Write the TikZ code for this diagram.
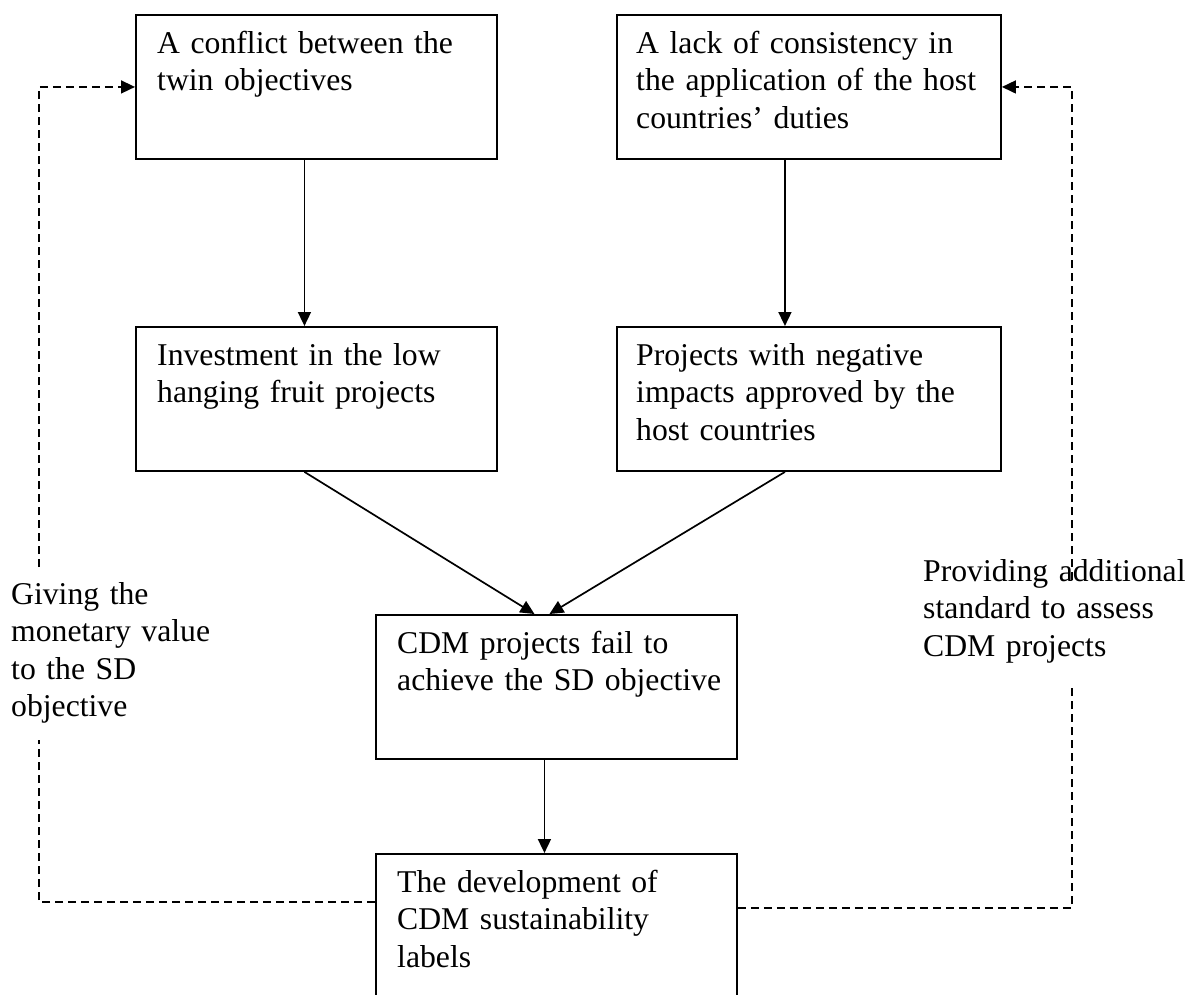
\documentclass[tikz,border=0pt]{standalone}
\usepackage{fontspec}
\setmainfont{Liberation Serif}
\usetikzlibrary{arrows.meta,calc}
\begin{document}
\begin{tikzpicture}[x=1pt,y=-1pt,
  box/.style={draw=black,line width=1.9pt,rectangle,inner sep=0pt,anchor=north west},
  txt/.style={anchor=base west,inner sep=0pt,text width=345pt,align=left,
    font=\fontsize{31.7pt}{37.5pt}\selectfont},
  flow/.style={line width=1.7pt,-{Triangle[length=14pt,width=13pt]}},
  link/.style={line width=1.6pt,dash pattern=on 8pt off 5pt},
  linkarrow/.style={link,-{Triangle[length=14pt,width=13pt]}}]
\useasboundingbox (0,0) rectangle (1186,994);
\clip (0,0) rectangle (1186,994);

% boxes
\node[box,minimum width=361pt,minimum height=144pt] (a) at (135,14) {};
\node[box,minimum width=384pt,minimum height=144pt] (b) at (616,14) {};
\node[box,minimum width=361pt,minimum height=144pt] (c) at (135,326) {};
\node[box,minimum width=384pt,minimum height=144pt] (d) at (616,326) {};
\node[box,minimum width=361pt,minimum height=144pt] (e) at (375,614) {};
\node[box,minimum width=361pt,minimum height=144pt] (f) at (375,853) {};

% box texts
\node[txt] (ta) at ($(a.north west)+(22,39)$) {A conflict between the\\twin objectives};
\node[txt] (tb) at ($(b.north west)+(20,39)$) {A lack of consistency in\\the application of the host\\countries’ duties};
\node[txt] (tc) at ($(c.north west)+(22,39)$) {Investment in the low\\hanging fruit projects};
\node[txt] (td) at ($(d.north west)+(20,39)$) {Projects with negative\\impacts approved by the\\host countries};
\node[txt] (te) at ($(e.north west)+(22,39)$) {CDM projects fail to\\achieve the SD objective};
\node[txt] (tf) at ($(f.north west)+(22,39)$) {The development of\\CDM sustainability\\labels};

% side labels
\node[txt] (lg) at (11,604) {Giving the\\monetary value\\to the SD\\objective};
\node[txt] (lp) at (923,581) {Providing additional\\standard to assess\\CDM projects};

% solid flow
\draw[flow] ([xshift=-12pt]a.south) -- ([xshift=-12pt]c.north);
\draw[flow] ([xshift=-24pt]b.south) -- ([xshift=-24pt]d.north);
\draw[flow] ([xshift=-12pt]c.south) -- ([xshift=-22pt]e.north);
\draw[flow] ([xshift=-24pt]d.south) -- ([xshift=-7pt]e.north);
\draw[flow] ([xshift=-12pt]e.south) -- ([xshift=-12pt]f.north);

% feedback links
\coordinate (fl) at ($(f.north west)+(0,49)$);
\coordinate (fr) at ($(f.north east)+(0,55)$);
\coordinate (lx) at (39,0);
\coordinate (rx) at (1072,0);
\draw[link] (fl) -- (fl -| lx) -- ($(fl -| lx)+(0,-162)$);
\draw[linkarrow] (39,567) -- (a.west -| lx) -- (a.west);
\draw[link] (fr) -- (fr -| rx) -- ($(fr -| rx)+(0,-223)$);
\draw[linkarrow] (1072,580) -- (b.east -| rx) -- (b.east);
\end{tikzpicture}
\end{document}
